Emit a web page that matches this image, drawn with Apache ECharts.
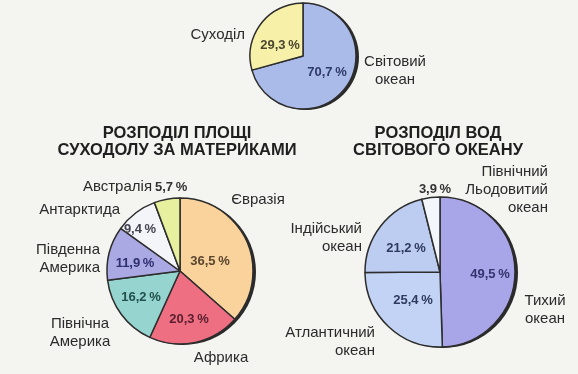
<!DOCTYPE html>
<html>
<head>
<meta charset="utf-8">
<style>
html,body{margin:0;padding:0;background:#f4f4f1;}
#chart{width:578px;height:374px;}
</style>
<script src="https://cdn.jsdelivr.net/npm/echarts@6/dist/echarts.min.js"></script>
</head>
<body>
<div id="chart"></div>
<script>
// ---- data ----
const topNames = ['Світовий\nокеан', 'Суходіл'];
const topValues = [70.7, 29.3];
const landNames = ['Євразія', 'Африка', 'Північна\nАмерика', 'Південна\nАмерика', 'Антарктида', 'Австралія'];
const landValues = [36.5, 20.3, 16.2, 11.9, 9.4, 5.7];
const oceanNames = ['Тихий\nокеан', 'Атлантичний\nокеан', 'Індійський\nокеан', 'Північний\nЛьодовитий\nокеан'];
const oceanValues = [49.5, 25.4, 21.2, 3.9];
const titleLand = 'РОЗПОДІЛ ПЛОЩІ\nСУХОДОЛУ ЗА МАТЕРИКАМИ';
const titleOcean = 'РОЗПОДІЛ ВОД\nСВІТОВОГО ОКЕАНУ';

// ---- styles / layout ----
const FONT = '"Liberation Sans", Arial, sans-serif';
const topColors = ['#aabbe9', '#f6f0a8'];
const landColors = ['#f9d39b', '#ee6f82', '#95d4cf', '#aaa9e4', '#f3f5f9', '#e7f09e'];
const oceanColors = ['#a8a6e8', '#c3d3f5', '#bdcdf2', '#f3f6fb'];
const topPctColors = ['#2f3a6b', '#4a4630'];
const landPctColors = ['#5a4630', '#5a2030', '#23504c', '#2c2f6e', '#444450', '#333'];
const oceanPctColors = ['#34336e', '#2e3a60', '#2e3a60', '#333'];

// label placements [x, y, align]
const topNamePos = [[395, 71, 'center'], [245, 35, 'right']];
const topPctPos = [[327, 72, 'center'], [280, 45, 'center']];
const landNamePos = [[258, 200, 'center'], [221, 358, 'center'], [80, 333, 'center'], [100, 259, 'right'], [120, 210, 'right'], [152, 187, 'right']];
const landPctPos = [[210, 261, 'center'], [189, 319, 'center'], [141, 297, 'center'], [135, 263, 'center'], [140, 229, 'center'], [155, 187, 'left']];
const oceanNamePos = [[545, 310, 'center'], [375, 342, 'right'], [362, 238, 'right'], [548, 190, 'right']];
const oceanPctPos = [[490, 274, 'center'], [413, 300, 'center'], [406, 248, 'center'], [435, 189, 'center']];

const pct = v => v.toFixed(1).replace('.', ',') + '\u2009%';

function layoutFrom(pos) {
  return function (p) {
    const q = pos[p.dataIndex];
    return { x: q[0], y: q[1], align: q[2], verticalAlign: 'middle' };
  };
}

function makePie(names, values, colors, pctColors, namePos, pctPos, center, radius) {
  const shadow = {
    type: 'pie', silent: true, radius: radius,
    center: [center[0] + 3, center[1] + 1],
    label: { show: false }, labelLine: { show: false },
    itemStyle: { color: '#2a2a2a', borderWidth: 0 },
    data: [{ value: 1, name: '' }], z: 1
  };
  const slices = {
    type: 'pie', radius: radius, center: center, startAngle: 90, clockwise: true,
    avoidLabelOverlap: false, silent: true, z: 2,
    itemStyle: { borderColor: '#2d2d2d', borderWidth: 1.5 },
    label: {
      show: true, position: 'inside', fontFamily: FONT, fontSize: 13, fontWeight: 'bold',
      formatter: p => pct(p.value)
    },
    labelLine: { show: false },
    labelLayout: layoutFrom(pctPos),
    data: values.map((v, i) => ({
      value: v, name: names[i],
      itemStyle: { color: colors[i] },
      label: { color: pctColors[i] }
    }))
  };
  const nameSeries = {
    type: 'pie', radius: radius, center: center, startAngle: 90, clockwise: true,
    avoidLabelOverlap: false, silent: true, z: 3,
    itemStyle: { color: 'rgba(0,0,0,0)', borderWidth: 0 },
    label: {
      show: true, position: 'inside', fontFamily: FONT, fontSize: 15,
      color: '#2b2b2b', lineHeight: 18, formatter: p => p.name
    },
    labelLine: { show: false },
    labelLayout: layoutFrom(namePos),
    data: values.map((v, i) => ({ value: v, name: names[i] }))
  };
  return [shadow, slices, nameSeries];
}

const chart = echarts.init(document.getElementById('chart'), null, { renderer: 'canvas' });
chart.setOption({
  backgroundColor: '#f4f4f1',
  animation: false,
  graphic: [
    { type: 'text', x: 177, y: 142, style: { text: titleLand, align: 'center', verticalAlign: 'middle', font: 'bold 16.5px ' + FONT, lineHeight: 17, fill: '#1f1f1f' } },
    { type: 'text', x: 438, y: 142, style: { text: titleOcean, align: 'center', verticalAlign: 'middle', font: 'bold 16.5px ' + FONT, lineHeight: 17, fill: '#1f1f1f' } }
  ],
  series: [
    ...makePie(topNames, topValues, topColors, topPctColors, topNamePos, topPctPos, [303, 56], 53),
    ...makePie(landNames, landValues, landColors, landPctColors, landNamePos, landPctPos, [180, 271], 73),
    ...makePie(oceanNames, oceanValues, oceanColors, oceanPctColors, oceanNamePos, oceanPctPos, [440, 272], 75)
  ]
});
</script>
</body>
</html>
